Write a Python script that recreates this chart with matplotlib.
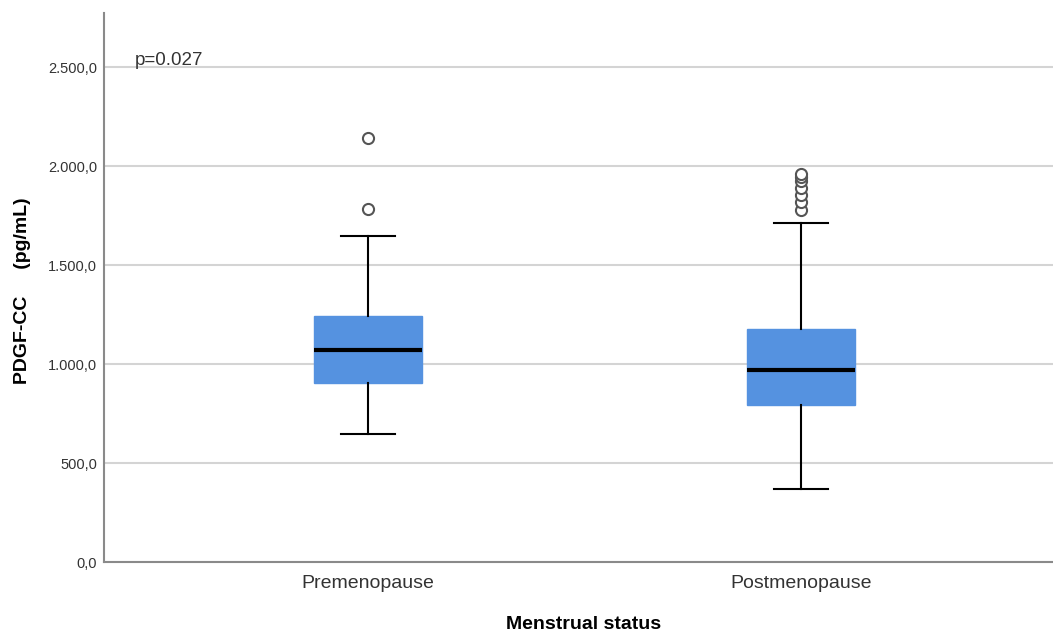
import matplotlib.pyplot as plt
from matplotlib.ticker import FuncFormatter

plt.rcParams['font.family'] = ['Liberation Sans', 'DejaVu Sans']

groups = ["Premenopause", "Postmenopause"]
q1 = [904, 793]
med = [1071, 970]
q3 = [1242, 1177]
whislo = [646, 369]
whishi = [1646, 1712]
fliers = [[1783, 2141], [1780, 1820, 1855, 1890, 1925, 1945, 1962]]

stats = []
for i in range(len(groups)):
    stats.append({"label": groups[i], "q1": q1[i], "med": med[i], "q3": q3[i],
                  "whislo": whislo[i], "whishi": whishi[i], "fliers": fliers[i]})

fig = plt.figure(figsize=(10.53, 6.33), dpi=100)
ax = fig.add_axes([0.0988, 0.112, 0.9012, 0.867])

ax.bxp(stats, positions=[1, 2], widths=0.25, patch_artist=True,
       boxprops=dict(facecolor="#5592e0", edgecolor="#5592e0", linewidth=1),
       medianprops=dict(color="black", linewidth=3),
       whiskerprops=dict(color="black", linewidth=1.5),
       capprops=dict(color="black", linewidth=1.5),
       capwidths=0.125,
       flierprops=dict(marker="o", markerfacecolor="white", markeredgecolor="#555555",
                       markersize=8, markeredgewidth=1.5))

ax.set_xlim(0.39, 2.583)
ax.set_ylim(0, 2773)
ax.set_yticks([0, 500, 1000, 1500, 2000, 2500])
ax.yaxis.set_major_formatter(FuncFormatter(lambda v, p: "{:,.1f}".format(v).replace(",", "X").replace(".", ",").replace("X", ".")))
ax.grid(axis="y", color="#d4d4d4", linewidth=1.5)
ax.set_axisbelow(True)

for s in ["top", "right"]:
    ax.spines[s].set_visible(False)
for s in ["left", "bottom"]:
    ax.spines[s].set_color("#8a8a8a")
    ax.spines[s].set_linewidth(1.5)
ax.tick_params(axis="both", length=0, colors="#333333")
ax.tick_params(axis="y", labelsize=10.5, pad=5)
ax.tick_params(axis="x", labelsize=14, pad=9)

ax.set_xlabel("Menstrual status", fontsize=14, fontweight="bold")
ax.set_ylabel("PDGF-CC     (pg/mL)", fontsize=14, fontweight="bold")
ax.xaxis.set_label_coords(0.505, -0.098)
ax.yaxis.set_label_coords(-0.077, 0.495)

ax.text(0.032, 0.905, "p=0.027", transform=ax.transAxes, fontsize=13.5, color="#333333")

plt.savefig("out.png", dpi=100)
